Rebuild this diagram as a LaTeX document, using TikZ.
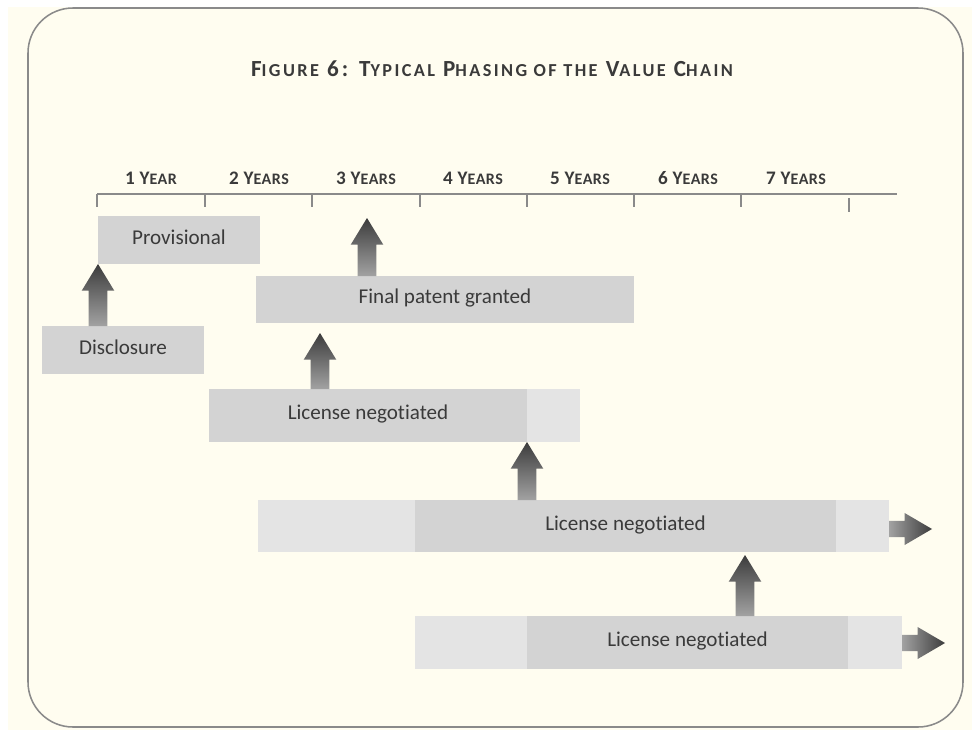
\documentclass[tikz,border=0pt]{standalone}
\usepackage{fontspec}
\setmainfont{Carlito}[Ligatures=NoCommon]
\newfontfamily\titleface[LetterSpace=13]{Carlito}
\newfontfamily\yearface[LetterSpace=3]{Carlito}
\usetikzlibrary{calc}

\definecolor{paper}{HTML}{FFFDF0}
\definecolor{frame}{HTML}{8A8A8A}
\definecolor{ink}{HTML}{3A3A3A}
\definecolor{barfill}{HTML}{D3D3D3}
\definecolor{tailfill}{HTML}{E4E4E4}
\definecolor{arrowdark}{HTML}{3C3C3C}
\definecolor{arrowlight}{HTML}{A2A2A2}

% fake small caps: capitals big, the rest one size down
\newcommand{\titlefont}{\titleface\bfseries\fontsize{16.4}{19}\selectfont}
\newcommand{\titlesm}[1]{{\fontsize{13}{15}\selectfont #1}}
\newcommand{\yearfont}{\yearface\bfseries\fontsize{13.6}{16}\selectfont}
\newcommand{\yearsm}[1]{{\fontsize{11.4}{13}\selectfont #1}}

\tikzset{
  span/.style n args={2}{anchor=north west, minimum width=#1*0.025cm, minimum height=#2*0.025cm},
  phase/.style={fill=barfill, inner sep=0pt, outer sep=0pt, text=ink, font=\fontsize{15}{18}\selectfont,
    text height=9pt, text depth=3pt},
  tail/.style={fill=tailfill, inner sep=0pt, outer sep=0pt},
  yearlabel/.style={anchor=base, text=ink, font=\yearfont},
}

% block arrow from the edge #1 straight up to the tip #2
\newcommand{\riseto}[2]{%
  \shade[top color=arrowdark, bottom color=arrowlight]
    let \p1=(#1), \p2=(#2) in
    (\x2-6.6pt,\y1) -- (\x2-6.6pt,\y2-19pt) -- (\x2-11.6pt,\y2-19pt) -- (\x2,\y2)
    -- (\x2+11.6pt,\y2-19pt) -- (\x2+6.6pt,\y2-19pt) -- (\x2+6.6pt,\y1) -- cycle;}
% block arrow from the edge #1 right to the tip #2
\newcommand{\runto}[2]{%
  \shade[left color=arrowlight, right color=arrowdark]
    let \p1=(#1), \p2=(#2) in
    (\x1,\y2+5.7pt) -- (\x2-19.5pt,\y2+5.7pt) -- (\x2-19.5pt,\y2+11.4pt) -- (\x2,\y2)
    -- (\x2-19.5pt,\y2-11.4pt) -- (\x2-19.5pt,\y2-5.7pt) -- (\x1,\y2-5.7pt) -- cycle;}

\begin{document}
\begin{tikzpicture}[x=0.025cm, y=-0.025cm]
  \useasboundingbox (0,0) rectangle (972,730);
  \fill[white] (0,0) rectangle (972,730);
  \fill[paper] (8,7) rectangle (972,730);
  \draw[frame, line width=1.1pt, rounded corners=32pt] (28,8) rectangle (963,727);

  \node[anchor=base, text=ink, font=\titlefont] (title) at (492,76)
    {F\titlesm{IGURE} 6: T\titlesm{YPICAL} P\titlesm{HASING OF THE} V\titlesm{ALUE} C\titlesm{HAIN}};

  % time axis
  \draw[frame, line width=1pt] (97,194) -- (897,194);
  \foreach \tx in {97,205,312,420,527,634,741}
    \draw[frame, line width=1pt] (\tx,194) -- (\tx,207);
  \draw[frame, line width=1pt] (849,198) -- (849,212);
  \node[yearlabel] (y1) at (151,184) {1 Y\yearsm{EAR}};
  \node[yearlabel] (y2) at (259,184) {2 Y\yearsm{EARS}};
  \node[yearlabel] (y3) at (366,184) {3 Y\yearsm{EARS}};
  \node[yearlabel] (y4) at (473,184) {4 Y\yearsm{EARS}};
  \node[yearlabel] (y5) at (580,184) {5 Y\yearsm{EARS}};
  \node[yearlabel] (y6) at (688,184) {6 Y\yearsm{EARS}};
  \node[yearlabel] (y7) at (796,184) {7 Y\yearsm{EARS}};

  % phases
  \node[phase, span={162}{48}] (provisional) at (98,216) {Provisional};
  \node[phase, span={162}{48}] (disclosure) at (42,326) {Disclosure};
  \node[phase, span={378}{47}] (patent) at (256,276) {Final patent granted};

  \node[phase, span={318}{53}] (lic1) at (209,389) {License negotiated};
  \node[tail, span={53}{53}] (lic1tail) at (lic1.north east) {};

  \node[phase, span={421}{52}] (lic2) at (415,500) {License negotiated};
  \node[tail, span={157}{52}, anchor=north east] (lic2lead) at (lic2.north west) {};
  \node[tail, span={53}{52}] (lic2tail) at (lic2.north east) {};

  \node[phase, span={321}{53}] (lic3) at (527,616) {License negotiated};
  \node[tail, span={112}{53}, anchor=north east] (lic3lead) at (lic3.north west) {};
  \node[tail, span={54}{53}] (lic3tail) at (lic3.north east) {};

  % free arrow ends
  \coordinate (grant) at (367,218);
  \coordinate (deal1) at (320,333);
  \coordinate (deal3) at (745,555);
  \coordinate (more2) at (932,529);
  \coordinate (more3) at (945,643);

  \riseto{disclosure.north}{provisional.south west}
  \riseto{patent.north}{grant}
  \riseto{lic1.north}{deal1}
  \riseto{lic2.north}{lic1.south east}
  \riseto{lic3.north}{deal3}
  \runto{lic2tail.east}{more2}
  \runto{lic3tail.east}{more3}
\end{tikzpicture}
\end{document}
